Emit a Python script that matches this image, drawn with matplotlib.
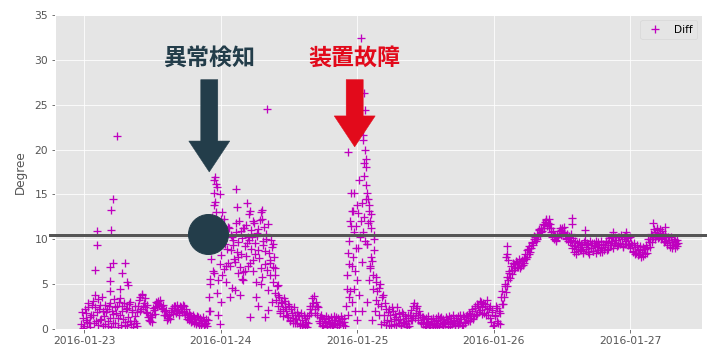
import numpy as np
import matplotlib
matplotlib.use("Agg")
import matplotlib.pyplot as plt
import matplotlib.dates as mdates
from matplotlib.patches import FancyArrow

plt.style.use("ggplot")
plt.rcParams["font.family"] = ["DejaVu Sans", "Noto Sans CJK JP"]
plt.rcParams["xtick.labelsize"] = 10.8
plt.rcParams["ytick.labelsize"] = 10.8

# Diff readings every 15 minutes, starting 2016-01-22 23:30 (one row = 2 hours)
diff_values = [
    0.5, 1.2, 0.3, 1.8, 0.8, 2.4, 0.2, 1.5,
    3.1, 0.6, 3.8, 1.9, 0.4, 2.7, 1.1, 0.3,
    1.4, 0.5, 2.2, 0.9, 2.9, 0.2, 1.7, 3.3,
    0.7, 2.5, 1.2, 3.4, 0.4, 2.0, 2.9, 0.8,
    2.3, 1.3, 3.0, 0.5, 1.9, 0.9, 1.4, 0.3,
    2.6, 3.5, 2.2, 3.8, 2.9, 2.4, 1.8, 1.3,
    0.9, 1.3, 1.6, 2.1, 2.4, 2.9, 3.1, 2.8,
    2.6, 2.2, 2.0, 1.6, 1.4, 1.2, 1.5, 1.9,
    2.3, 2.1, 2.5, 2.0, 2.2, 1.8, 2.4, 1.9,
    2.6, 1.5, 1.7, 1.3, 1.0, 1.4, 0.9, 1.3,
    1.1, 0.8, 1.3, 0.6, 1.0, 0.7, 0.9, 0.5,
    0.6, 1.0, 3.5, 7.8, 12.5, 16.6, 14.2, 9.0,
    5.5, 11.0, 8.2, 13.0, 6.7, 9.5, 10.4, 7.3,
    11.2, 8.8, 4.6, 9.9, 7.5, 10.8, 6.2, 12.0,
    8.4, 10.1, 5.4, 9.2, 11.6, 7.0, 12.8, 8.9,
    10.3, 6.5, 9.6, 3.5, 11.1, 7.9, 13.0, 5.8,
    9.8, 7.2, 10.6, 4.3, 8.5, 6.0, 9.1, 5.2,
    4.0, 3.2, 2.5, 3.5, 1.8, 2.9, 2.2, 3.1,
    2.0, 1.3, 2.6, 1.0, 1.8, 0.7, 1.5, 1.1,
    0.6, 1.4, 0.3, 1.0, 0.5, 1.2, 0.8, 0.2,
    1.5, 2.6, 3.4, 2.9, 2.2, 3.0, 1.6, 0.9,
    0.7, 1.2, 0.4, 0.9, 1.4, 0.3, 0.8, 0.5,
    1.0, 0.4, 0.7, 1.3, 0.2, 0.9, 0.6, 1.1,
    0.4, 0.8, 2.5, 6.0, 9.8, 4.2, 13.1, 8.0,
    15.1, 11.5, 5.5, 16.6, 10.2, 14.0, 21.6, 12.5,
    18.0, 9.5, 13.8, 6.8, 11.2, 4.5, 8.8, 3.2,
    4.2, 1.5, 5.0, 2.6, 3.8, 0.8, 2.2, 1.0,
    0.4, 1.6, 0.9, 2.0, 0.5, 1.3, 2.4, 0.7,
    1.1, 0.3, 1.7, 0.6, 1.2, 0.2, 0.9, 1.5,
    2.1, 1.4, 2.9, 1.8, 2.5, 1.0, 1.6, 0.8,
    0.5, 1.1, 0.3, 0.8, 1.4, 0.4, 0.9, 0.2,
    0.7, 1.2, 0.4, 1.0, 0.6, 1.3, 0.3, 0.8,
    0.5, 1.1, 0.8, 0.3, 1.2, 0.6, 1.0, 0.4,
    0.9, 1.4, 0.6, 1.1, 0.4, 1.3, 0.8, 1.6,
    1.0, 1.7, 1.2, 2.0, 1.4, 2.3, 1.7, 2.6,
    2.1, 3.0, 2.4, 1.8, 2.8, 2.2, 1.5, 2.5,
    0.8, 1.9, 0.4, 1.5, 2.3, 0.6, 1.8, 3.5,
    4.2, 3.6, 5.0, 5.8, 5.4, 6.5, 7.0, 6.6,
    7.2, 6.8, 7.5, 6.9, 7.3, 7.0, 7.6, 7.9,
    8.3, 8.0, 8.9, 9.2, 9.0, 9.7, 10.0, 10.3,
    10.6, 10.4, 11.0, 11.3, 10.9, 11.6, 11.9, 12.1,
    11.8, 11.2, 10.8, 10.3, 10.0, 10.4, 9.9, 10.2,
    10.6, 11.0, 11.2, 10.8, 10.5, 10.1, 9.8, 10.3,
    10.6, 9.4, 8.6, 9.8, 8.4, 9.1, 9.7, 8.8,
    9.3, 8.5, 9.9, 8.9, 9.5, 8.3, 9.0, 9.6,
    8.7, 9.2, 9.8, 8.8, 9.4, 9.0, 8.6, 9.5,
    9.1, 9.7, 8.9, 10.1, 9.3, 9.8, 10.3, 9.6,
    9.9, 9.4, 10.2, 9.6, 10.0, 9.2, 10.4, 9.8,
    10.1, 9.5, 9.0, 9.3, 8.7, 9.1, 8.5, 8.9,
    8.3, 8.8, 8.6, 8.1, 8.9, 9.3, 9.0, 9.7,
    10.0, 10.5, 10.2, 10.8, 10.4, 11.0, 10.3, 10.7,
    10.1, 10.5, 9.8, 10.2, 9.6, 9.9, 9.4, 9.7,
    9.3, 9.8, 9.5, 9.2,
]

# readings in between, every 15 minutes from 2016-01-22 23:37:30
diff_values_mid = [
    1.9, 0.1, 2.2, 1.0, 2.9, 0.6, 1.3, 2.7,
    1.6, 2.4, 0.9, 3.3, 2.2, 1.0, 3.6, 2.0,
    2.7, 1.9, 0.3, 2.6, 1.2, 2.0, 0.6, 2.4,
    1.8, 0.2, 3.0, 1.6, 2.6, 1.1, 0.3, 2.2,
    0.4, 2.8, 0.9, 2.1, 0.2, 2.6, 0.6, 1.9,
    3.2, 2.0, 3.9, 2.5, 3.4, 1.9, 2.7, 1.0,
    1.5, 0.8, 2.3, 1.7, 3.0, 2.5, 2.7, 3.2,
    2.3, 2.7, 1.5, 2.1, 1.0, 1.7, 1.1, 2.3,
    1.7, 2.6, 1.8, 2.7, 1.6, 2.5, 2.0, 2.7,
    1.9, 2.2, 1.1, 1.8, 1.5, 0.8, 1.6, 0.7,
    0.5, 1.4, 0.4, 1.2, 0.3, 1.3, 0.4, 1.1,
    0.3, 2.0, 5.6, 10.2, 6.4, 13.8, 11.0, 15.8,
    10.0, 7.2, 12.2, 9.8, 11.5, 5.2, 8.9, 11.4,
    7.0, 10.5, 9.3, 7.8, 11.8, 8.6, 9.7, 6.9,
    10.9, 6.3, 11.2, 8.1, 9.6, 10.2, 7.4, 11.0,
    7.7, 11.8, 5.2, 10.4, 8.8, 12.1, 6.8, 9.4,
    11.4, 8.7, 6.6, 11.7, 7.4, 9.9, 6.9, 8.0,
    6.8, 4.8, 3.8, 2.0, 3.0, 1.4, 3.4, 2.4,
    1.5, 2.8, 0.9, 2.2, 1.2, 2.4, 0.6, 1.9,
    1.5, 0.5, 1.8, 0.4, 1.6, 0.3, 1.4, 0.7,
    2.2, 1.8, 2.5, 3.7, 1.8, 2.6, 2.4, 1.3,
    1.5, 0.3, 1.1, 0.6, 0.2, 1.2, 0.5, 1.3,
    0.3, 1.4, 1.0, 0.5, 1.2, 0.4, 1.4, 0.8,
    1.2, 0.3, 4.5, 1.5, 7.2, 11.5, 3.0, 10.8,
    6.5, 13.8, 9.0, 3.8, 12.0, 7.5, 18.5, 9.8,
    14.5, 11.8, 5.5, 12.8, 7.6, 10.5, 2.0, 5.8,
    2.8, 4.6, 0.5, 3.6, 1.6, 2.9, 0.4, 1.9,
    2.2, 0.3, 2.4, 1.1, 1.7, 0.4, 1.0, 1.8,
    0.4, 1.9, 0.8, 1.4, 0.5, 1.6, 0.3, 1.0,
    1.0, 2.6, 1.2, 2.3, 1.5, 2.0, 0.6, 1.3,
    1.3, 0.2, 1.2, 0.6, 0.2, 1.1, 0.5, 1.2,
    0.3, 0.9, 1.4, 0.2, 1.2, 0.5, 1.1, 0.6,
    1.3, 0.2, 1.4, 0.9, 0.5, 1.5, 0.3, 1.2,
    0.4, 0.7, 1.5, 0.3, 1.6, 0.7, 1.4, 0.9,
    1.8, 0.9, 2.2, 1.1, 2.5, 1.5, 2.8, 1.9,
    3.1, 1.7, 2.9, 2.6, 1.6, 3.2, 2.3, 1.2,
    2.1, 0.3, 1.4, 2.6, 0.9, 2.0, 0.5, 2.8,
    2.8, 4.8, 4.1, 4.8, 6.2, 5.7, 6.1, 7.3,
    6.6, 7.6, 6.9, 7.8, 6.8, 7.7, 7.1, 7.3,
    7.8, 8.8, 8.4, 8.6, 9.6, 9.3, 10.4, 9.8,
    10.0, 11.1, 10.5, 10.8, 11.7, 11.2, 12.3, 11.5,
    12.3, 11.7, 11.2, 10.9, 10.5, 9.8, 10.5, 10.9,
    11.2, 10.5, 10.7, 11.4, 10.0, 10.6, 10.4, 9.7,
    9.9, 10.1, 9.2, 8.9, 9.6, 8.7, 8.9, 9.5,
    8.7, 9.7, 9.1, 9.6, 8.6, 9.8, 9.3, 8.7,
    9.6, 8.5, 9.1, 9.7, 8.6, 9.8, 9.4, 8.8,
    9.8, 8.8, 9.6, 9.4, 10.2, 9.0, 9.6, 10.2,
    9.2, 10.3, 9.5, 10.5, 9.1, 10.3, 9.5, 10.3,
    9.4, 10.2, 9.6, 8.6, 9.6, 8.4, 9.3, 8.2,
    9.2, 8.0, 9.1, 8.9, 8.4, 8.5, 10.0, 9.1,
    10.6, 9.7, 11.1, 10.0, 11.2, 10.1, 11.1, 10.0,
    10.9, 9.7, 10.6, 9.3, 10.3, 9.1, 10.2, 9.0,
    10.0, 9.0, 9.9, 9.6,
]

# extra scattered readings (hours after 2016-01-23 00:00, value)
spike_hours = [
    2.0, 2.2, 2.3, 4.6, 4.6, 4.6, 4.7, 4.7, 5.0, 5.15, 5.85, 6.3, 6.7, 7.2, 7.5, 7.7,
    22.1, 22.2, 22.4, 22.6, 22.8, 22.9, 23.0, 23.1, 23.2, 23.4, 23.6, 23.8, 23.9, 24.1,
    26.7, 26.9, 28.6, 29.2, 31.3, 31.3, 32.2, 29.2, 31.8, 32.3, 25.7, 26.5, 27.4, 30.6,
    33.0, 24.6, 25.0, 26.0, 27.0, 28.0, 28.3, 29.6, 30.0, 30.3, 31.0, 32.0, 32.7, 33.3,
    33.6, 34.0, 27.8, 29.0, 24.3,
    46.3, 46.5, 46.7, 46.9, 47.1, 47.3, 47.6, 47.8, 48.0, 46.4, 47.4, 48.1,
    48.7, 49.2, 49.4, 49.0, 49.3, 49.6, 49.1, 49.5, 49.8, 49.9, 50.1, 50.3, 49.0, 49.7,
    50.5, 50.8, 51.0, 50.2, 51.3, 48.9, 50.6, 49.8,
    74.1, 74.3, 74.3, 74.5, 85.8, 85.8, 85.7, 88.1, 93.0, 95.3, 100.0, 102.1,
]
spike_values = [
    6.6, 9.3, 10.9, 6.9, 5.3, 4.2, 11.0, 13.3, 14.5, 7.3, 21.5, 4.5, 6.2, 7.3, 5.2, 4.9,
    5.0, 2.0, 11.5, 9.5, 6.2, 15.2, 16.9, 13.0, 16.2, 4.0, 1.5, 0.5, 15.0, 3.0,
    15.6, 13.6, 14.0, 13.1, 13.3, 12.3, 24.5, 1.3, 1.3, 2.1, 3.5, 4.3, 3.8, 2.5,
    3.0, 12.2, 7.0, 10.2, 8.0, 11.3, 6.5, 12.0, 8.3, 10.7, 5.0, 10.0, 7.7, 9.5,
    6.0, 4.9, 5.6, 9.9, 6.0,
    19.7, 3.5, 12.0, 15.1, 7.0, 13.1, 2.0, 9.0, 1.0, 8.5, 4.5, 12.9,
    32.4, 26.3, 24.4, 21.1, 20.0, 19.0, 17.0, 16.0, 15.2, 14.5, 13.2, 12.0, 10.8, 9.5,
    8.0, 6.0, 10.0, 7.0, 5.2, 2.0, 1.0, 3.0,
    8.0, 9.2, 8.4, 7.7, 12.4, 11.7, 9.0, 11.0, 10.8, 10.8, 11.8, 11.4,
]

threshold = 10.5

start = np.datetime64("2016-01-22T23:30")
step = np.timedelta64(15, "m")
times = start + np.arange(len(diff_values)) * step
times_mid = start + np.timedelta64(450, "s") + np.arange(len(diff_values_mid)) * step
day0 = np.datetime64("2016-01-23T00:00")
spike_times = day0 + (np.array(spike_hours) * 60).astype(int) * np.timedelta64(1, "m")

all_times = np.concatenate([times, times_mid, spike_times])
all_values = np.concatenate([diff_values, diff_values_mid, spike_values])

fig = plt.figure(figsize=(715 / 72, 359 / 72), dpi=72)
ax = fig.add_axes([0.077, 0.084, 0.905, 0.874])

ax.plot(all_times, all_values, "+", color="m", ms=8, mew=1.3, label="Diff")

ax.axhline(threshold, xmin=-0.008, xmax=1.005, color="#555555", lw=3, clip_on=False, zorder=4)

def hx(h):
    return mdates.date2num(day0) + h / 24.0

# anomaly marker
ax.plot([hx(21.8)], [10.6], "o", color="#233d4a", ms=40, zorder=5)

# arrows and labels
for h, tip, c in [(22.0, 17.5, "#233d4a"), (47.55, 20.3, "#e20a1b")]:
    ax.add_patch(FancyArrow(hx(h), 27.8, 0, tip - 27.8,
                            width=0.1245, head_width=0.30, head_length=3.45,
                            length_includes_head=True, color=c, zorder=6))
ax.text(hx(22.15), 30.2, "異常検知", family=["Noto Sans CJK JP"], fontsize=23,
        fontweight="bold", color="#233d4a", ha="center", va="center", zorder=6)
ax.text(hx(47.5), 30.2, "装置故障", family=["Noto Sans CJK JP"], fontsize=23,
        fontweight="bold", color="#e20a1b", ha="center", va="center", zorder=6)

ax.set_xlim(hx(-5.1), hx(108.6))
ax.set_ylim(0, 35)
ax.xaxis.set_major_locator(mdates.DayLocator())
ax.xaxis.set_major_formatter(mdates.DateFormatter("%Y-%m-%d"))
ax.set_ylabel("Degree", fontsize=12, labelpad=7)
ax.legend(loc="upper right", fontsize=10.5)

fig.savefig("out.png", dpi=72)
